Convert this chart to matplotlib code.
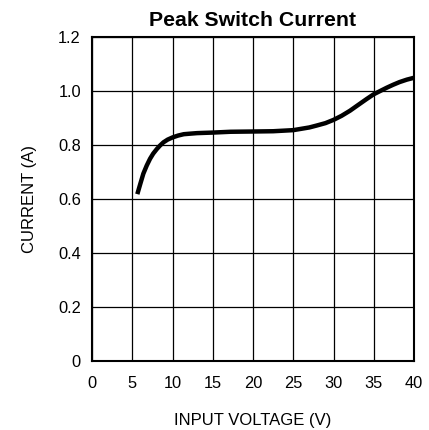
import matplotlib
matplotlib.use("Agg")
import matplotlib.pyplot as plt

# values
voltage = [5.63, 6.0, 6.38, 6.8, 7.21, 7.6, 8.05, 8.45, 8.88, 9.4, 10.0, 10.7, 11.4, 12.2,
           13.05, 14.0, 15.0, 17.2, 20.0, 22.5, 25.0, 25.8, 27.0, 27.9, 29.0, 30.0,
           31.0, 32.05, 33.0, 34.1, 35.0, 35.8, 36.6, 37.4, 38.2, 39.1, 40.0]
current = [0.618, 0.656, 0.694, 0.724, 0.749, 0.768, 0.785, 0.798, 0.810, 0.820, 0.828,
           0.835, 0.840, 0.842, 0.844, 0.845, 0.846, 0.849, 0.850, 0.851, 0.855, 0.859,
           0.865, 0.872, 0.881, 0.893, 0.908, 0.927, 0.947, 0.970, 0.988, 1.000, 1.012,
           1.023, 1.033, 1.042, 1.049]

x_ticks = [0, 5, 10, 15, 20, 25, 30, 35, 40]
y_ticks = [0, 0.2, 0.4, 0.6, 0.8, 1.0, 1.2]
y_tick_labels = ["0", "0.2", "0.4", "0.6", "0.8", "1.0", "1.2"]

plt.rcParams['font.family'] = ['Liberation Sans', 'DejaVu Sans']

fig = plt.figure(figsize=(4.29, 4.30), dpi=100)
ax = fig.add_axes([92/429, 1 - 361/430, (414 - 92)/429, (361 - 37)/430])

ax.plot(voltage, current, color="black", linewidth=3.2, solid_capstyle="butt", zorder=3)

ax.set_xlim(0, 40)
ax.set_ylim(0, 1.2)
ax.set_xticks(x_ticks)
ax.set_yticks(y_ticks)
ax.set_yticklabels(y_tick_labels)
ax.grid(True, color="black", linewidth=0.9)
ax.tick_params(length=0, labelsize=11.8)
ax.tick_params(axis="x", pad=10.5)
ax.tick_params(axis="y", pad=8)
for s in ax.spines.values():
    s.set_linewidth(1.5)

ax.set_title("Peak Switch Current", fontsize=15.3, fontweight="bold", pad=8)
ax.set_xlabel("INPUT VOLTAGE (V)", fontsize=12, labelpad=16)
ax.set_ylabel("CURRENT (A)", fontsize=12, labelpad=15)

fig.savefig("out.png", dpi=100)
